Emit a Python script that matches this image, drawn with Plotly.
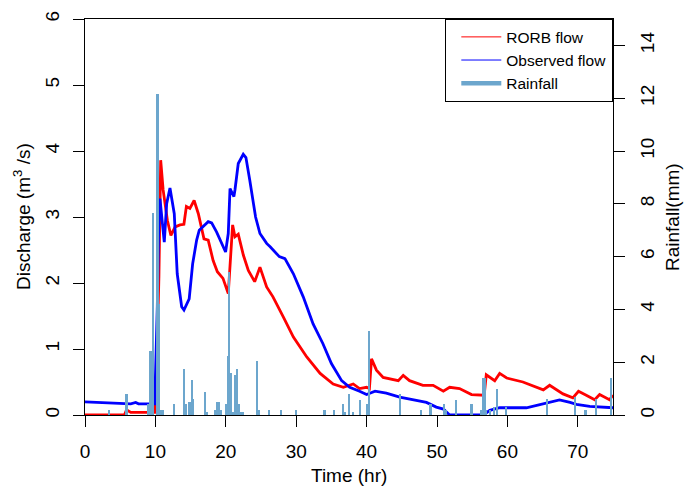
import plotly.graph_objects as go

# ---- data ----
rorb_time = [0, 5.6, 5.9, 6.5, 9.9, 10.2, 10.5, 10.75, 11.1, 11.7, 12.2, 12.8, 13.5, 14.05,
             14.4, 14.9, 15.5, 16.1, 16.9, 17.5, 18.2, 18.8, 19.6, 20.35, 20.97, 21.3, 21.77,
             22.5, 23.2, 24.1, 24.85, 25.8, 26.7, 27.6, 28.2, 29.6, 31.5, 33.4, 35.25, 36.7,
             38.1, 39.0, 40.0, 40.4, 40.7, 41.4, 42.35, 44.5, 45.2, 46.1, 48.0, 49.45, 50.9,
             51.8, 53.2, 54.9, 56.3, 56.7, 57.0, 58.2, 58.9, 59.9, 62.2, 65.1, 66.0, 67.9,
             69.3, 70.1, 71.2, 72.4, 73.1, 74.5, 75]
rorb_flow = [0.0, 0.0, 0.08, 0.04, 0.04, 0.8, 2.1, 3.86, 3.41, 2.95, 2.72, 2.85, 2.88, 2.89,
             3.16, 3.13, 3.25, 3.05, 2.67, 2.65, 2.34, 2.17, 2.07, 1.84, 2.88, 2.70, 2.74,
             2.42, 2.19, 2.02, 2.24, 1.94, 1.79, 1.59, 1.48, 1.18, 0.88, 0.63, 0.47, 0.42,
             0.47, 0.40, 0.42, 0.40, 0.85, 0.68, 0.57, 0.52, 0.60, 0.52, 0.45, 0.45, 0.36,
             0.42, 0.40, 0.31, 0.30, 0.30, 0.61, 0.52, 0.63, 0.56, 0.50, 0.38, 0.45, 0.32,
             0.26, 0.36, 0.30, 0.23, 0.31, 0.23, 0.30]

obs_time = [0, 3, 5, 6.5, 7.2, 7.6, 9.9, 10.15, 10.27, 10.46, 10.65, 11.26, 11.6, 12.07,
            12.68, 13.1, 13.73, 14.06, 14.8, 15.29, 15.86, 16.23, 17.5, 17.99, 18.7, 19.97,
            20.35, 20.6, 21.15, 21.3, 21.77, 22.48, 22.86, 23.4, 23.76, 24.23, 24.85, 25.8,
            26.3, 27.6, 28.4, 29.6, 31.0, 32.4, 33.8, 35.0, 36.45, 37.6, 39.0, 40.0, 41.2,
            42.8, 44.7, 47.1, 48.5, 49.9, 50.9, 51.8, 56.6, 57.5, 58.9, 62.7, 64.6, 67.4,
            68.9, 69.8, 71.7, 74.8, 75]
obs_flow = [0.20, 0.19, 0.18, 0.17, 0.19, 0.17, 0.17, 1.0, 1.64, 2.8, 3.28, 2.62, 3.2, 3.44,
            3.05, 2.14, 1.64, 1.59, 1.76, 2.29, 2.65, 2.80, 2.93, 2.91, 2.77, 2.47,
            2.75, 3.43, 3.31, 3.41, 3.81, 3.95, 3.90, 3.56, 3.30, 3.0, 2.75, 2.60,
            2.55, 2.40, 2.37, 2.14, 1.79, 1.38, 1.08, 0.78, 0.52, 0.42, 0.36, 0.31, 0.36,
            0.33, 0.27, 0.22, 0.19, 0.12, 0.09, 0.0, 0.0, 0.07, 0.11, 0.11, 0.16, 0.23,
            0.19, 0.16, 0.13, 0.11, 0.11]

rain_time = [3.45, 5.9, 9.0, 9.25, 9.45, 9.7, 10.3, 10.55, 10.85, 11.05, 12.6, 14.0, 14.4,
             14.75, 15.0, 15.2, 15.4, 17.05, 17.35, 18.5, 18.8, 19.0, 19.3, 20.0, 20.25,
             20.5, 20.75, 21.0, 21.3, 21.6, 21.85, 22.1, 22.4, 24.4, 24.7, 26.1, 27.8, 30.0,
             33.9, 34.1, 35.4, 36.6, 36.9, 37.5, 38.1, 39.1, 40.0, 40.3, 44.7, 47.7, 49.0,
             49.2, 51.0, 51.3, 52.7, 54.9, 56.2, 56.5, 56.75, 57.0, 57.5, 58.1, 58.5, 59.8,
             65.6, 69.6, 71.1, 72.6, 74.7]
rain_mm = [0.2, 0.78, 0.4, 2.42, 2.42, 7.67, 12.16, 4.19, 0.2, 0.2, 0.4, 1.75, 0.4,
           0.51, 0.51, 1.31, 0.59, 0.89, 0.1, 0.2, 0.51, 0.51, 0.2, 0.4, 2.22,
           5.42, 1.6, 0.1, 1.5, 1.75, 0.4, 0.1, 0.1, 2.03, 0.2, 0.2, 0.2, 0.2,
           0.2, 0.2, 0.2, 0.4, 0.1, 0.78, 0.1, 0.58, 0.4, 3.2, 0.78, 0.2, 0.4,
           0.4, 0.4, 0.2, 0.58, 0.4, 0.2, 1.41, 1.41, 0.2, 0.2, 0.32, 0.97, 0.32,
           0.59, 0.68, 0.2, 0.59, 1.41]

x_ticks = [0, 10, 20, 30, 40, 50, 60, 70]
q_ticks = [0, 1, 2, 3, 4, 5, 6]
r_ticks = [0, 2, 4, 6, 8, 10, 12, 14]

RED = "#FF0000"
BLUE = "#0000FF"
RAIN = "#6CA6CD"
FONT = "Liberation Sans, Arial, sans-serif"

fig = go.Figure()
fig.add_trace(go.Scatter(x=rorb_time, y=rorb_flow, mode="lines",
                         line=dict(color=RED, width=2.8), showlegend=False, hoverinfo="skip"))
fig.add_trace(go.Scatter(x=obs_time, y=obs_flow, mode="lines",
                         line=dict(color=BLUE, width=2.8), showlegend=False, hoverinfo="skip"))
fig.add_trace(go.Bar(x=rain_time, y=rain_mm, width=0.3, yaxis="y2",
                     marker=dict(color=RAIN, line=dict(width=0)), showlegend=False,
                     hoverinfo="skip"))
# legend entries
fig.add_trace(go.Scatter(x=[None], y=[None], mode="lines", name="RORB flow",
                         line=dict(color=RED, width=1)))
fig.add_trace(go.Scatter(x=[None], y=[None], mode="lines", name="Observed flow",
                         line=dict(color=BLUE, width=1)))
fig.add_trace(go.Scatter(x=[None], y=[None], mode="lines", name="Rainfall",
                         line=dict(color=RAIN, width=4.5)))

axis_common = dict(showline=True, linecolor="black", linewidth=1.3, ticks="outside",
                   ticklen=11, tickwidth=1.3, tickcolor="black", showgrid=False,
                   zeroline=False, automargin=False,
                   tickfont=dict(size=19, color="black", family=FONT))

fig.update_layout(
    width=684, height=486,
    margin=dict(l=85, r=71, t=19, b=71),
    plot_bgcolor="white", paper_bgcolor="white",
    font=dict(family=FONT, color="black", size=19),
    bargap=0,
    xaxis=dict(range=[0, 75], tickvals=x_ticks, mirror=True,
               ticklabelstandoff=8, **axis_common),
    yaxis=dict(range=[0, 6], tickvals=q_ticks, tickangle=-90,
               ticklabelstandoff=6, **axis_common),
    yaxis2=dict(range=[0, 15], tickvals=r_ticks, tickangle=-90, overlaying="y", side="right",
                ticklabelstandoff=6, **axis_common),
    legend=dict(x=1, xanchor="right", y=1, yanchor="top", bgcolor="white",
                bordercolor="black", borderwidth=1.3, font=dict(size=15.5, family=FONT),
                indentation=10, itemwidth=40, traceorder="normal"),
    annotations=[
        dict(text="Time (hr)", xref="paper", yref="paper", x=0.5, y=(415 - 475) / 396,
             xanchor="center", yanchor="middle", showarrow=False, font=dict(size=19)),
        dict(text="Discharge (m<sup>3</sup> /s)", xref="paper", yref="paper",
             x=(22 - 85) / 528, y=0.5, xanchor="center", yanchor="middle",
             textangle=-90, showarrow=False, font=dict(size=19)),
        dict(text="Rainfall(mm)", xref="paper", yref="paper",
             x=(672 - 85) / 528, y=0.5, xanchor="center", yanchor="middle",
             textangle=-90, showarrow=False, font=dict(size=19)),
    ],
)

fig.write_html("out.html", config={"displayModeBar": False},
               post_script="document.body.style.margin='0';document.body.style.padding='0';")
